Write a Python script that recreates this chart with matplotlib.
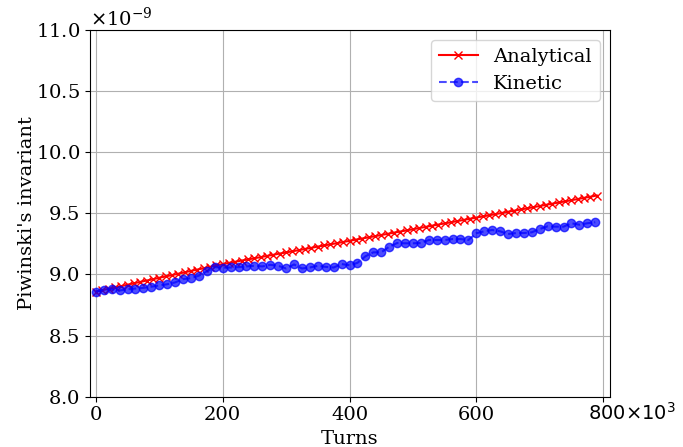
import matplotlib
matplotlib.use('Agg')
import matplotlib.pyplot as plt
import matplotlib.transforms as mtransforms
import numpy as np

plt.rcParams['font.family'] = ['DejaVu Serif']
plt.rcParams['font.size'] = 14

# turns sampled every 10e3 (analytical) and every 12.5e3 (kinetic)
turns_ana = np.arange(0, 800000, 10000)
turns_kin = np.arange(0, 800000, 12500)

# Piwinski invariant, units of 1e-9
inv_ana = [8.860, 8.871, 8.883, 8.894, 8.905, 8.916, 8.928, 8.939, 8.950, 8.961,
           8.973, 8.984, 8.995, 9.006, 9.018, 9.029, 9.040, 9.051, 9.063, 9.074,
           9.085, 9.095, 9.104, 9.114, 9.123, 9.133, 9.142, 9.152, 9.161, 9.171,
           9.180, 9.190, 9.199, 9.209, 9.218, 9.228, 9.237, 9.247, 9.256, 9.266,
           9.275, 9.285, 9.294, 9.304, 9.313, 9.323, 9.332, 9.342, 9.351, 9.361,
           9.370, 9.380, 9.389, 9.399, 9.408, 9.418, 9.427, 9.437, 9.446, 9.456,
           9.465, 9.475, 9.484, 9.494, 9.503, 9.513, 9.522, 9.532, 9.541, 9.551,
           9.560, 9.570, 9.579, 9.589, 9.598, 9.608, 9.617, 9.627, 9.636, 9.646]

inv_kin = [8.860, 8.873, 8.879, 8.869, 8.879, 8.885, 8.890, 8.900, 8.910, 8.920,
           8.935, 8.962, 8.970, 8.990, 9.025, 9.060, 9.055, 9.057, 9.060, 9.066,
           9.071, 9.066, 9.079, 9.071, 9.049, 9.082, 9.049, 9.057, 9.071, 9.062,
           9.057, 9.085, 9.076, 9.095, 9.148, 9.181, 9.181, 9.227, 9.257, 9.255,
           9.255, 9.257, 9.282, 9.282, 9.282, 9.290, 9.290, 9.282, 9.337, 9.353,
           9.364, 9.353, 9.331, 9.339, 9.339, 9.345, 9.372, 9.394, 9.391, 9.391,
           9.419, 9.407, 9.419, 9.427]

x_ticks = [0, 200000, 400000, 600000, 800000]
x_ticklabels = ['0', '200', '400', '600', '']

fig = plt.figure(figsize=(6.83, 4.47), dpi=100)
ax = fig.add_axes([89.5/683, 1-396.7/447, (609.5-89.5)/683, (396.7-30)/447])

ax.plot(turns_ana, np.array(inv_ana)*1e-9, 'r-', marker='x', markersize=6,
        linewidth=1.5, label='Analytical')
ax.plot(turns_kin, np.array(inv_kin)*1e-9, 'b--', marker='o', markersize=6,
        linewidth=1.5, alpha=0.7, label='Kinetic')

ax.set_xlim(-10000, 810000)
ax.set_ylim(8.0e-9, 11.0e-9)
ax.set_yticks(np.arange(8.0, 11.01, 0.5)*1e-9)
ax.ticklabel_format(axis='y', style='sci', scilimits=(-9, -9), useMathText=True)
ax.set_xticks(x_ticks, x_ticklabels)

# last x label merged with the x10^3 multiplier, like the original
trans = mtransforms.blended_transform_factory(ax.transData, ax.transAxes)
ax.text(776000, -0.043, r'$800{\times}10^{3}$', transform=trans,
        ha='left', va='center', fontsize=14)

ax.grid(True)
ax.set_xlabel('Turns')
ax.set_ylabel("Piwinski's invariant", labelpad=0)
ax.legend(loc='upper right')

fig.savefig('out.png', dpi=100)
